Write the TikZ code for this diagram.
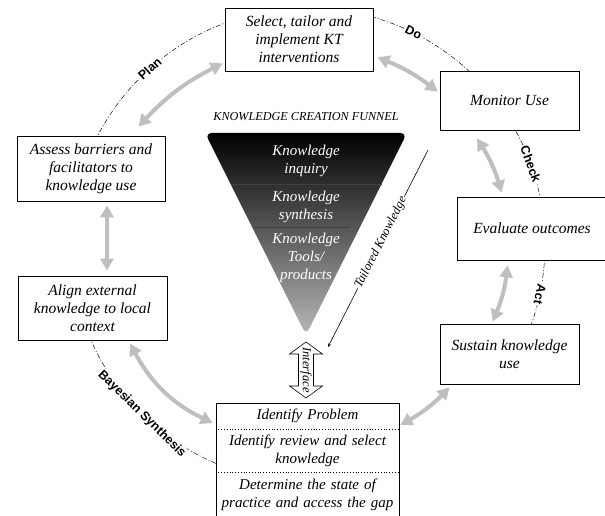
\documentclass[tikz,border=0pt]{standalone}
\usepackage{fontspec}
\setmainfont{Liberation Serif}
\setsansfont{Liberation Sans}
\usepackage{tikz}
\usetikzlibrary{calc,shapes,arrows,arrows.meta,positioning}
\tikzstyle{stage} = [rectangle, draw, fill=white, line width=0.8pt, align=center, inner sep=2pt, font=\fontsize{15.5}{18}\selectfont\itshape]
\tikzstyle{stage3} = [rectangle split, rectangle split parts=3, rectangle split draw splits=false, draw, fill=white, line width=0.8pt, text width=176pt, align=center, inner xsep=3.5pt, inner ysep=5.5pt, font=\fontsize{15}{18}\selectfont\itshape]
\tikzstyle{arrow} = [->, >=stealth, line width=0.6pt]
\tikzstyle{twoway} = [line width=4pt, draw=black!25, {Triangle[length=12pt,width=13pt]}-{Triangle[length=12pt,width=13pt]}]
\tikzstyle{pdsa} = [draw=blue!35!black, line width=0.5pt, dash pattern=on 5pt off 2pt on 1pt off 2pt]
\tikzstyle{phase} = [sloped, fill=white, inner sep=1pt, font=\sffamily\bfseries\fontsize{12.5}{14}\selectfont]
\tikzstyle{fnltext} = [align=center, text=white, font=\fontsize{15}{18}\selectfont\itshape]

\begin{document}
\begin{tikzpicture}[x=1pt,y=1pt]
\useasboundingbox (0,0) rectangle (605,515);
\coordinate (ctr) at (308,270);
\draw[pdsa] ($(ctr)+(154:237)$) arc[start angle=154, end angle=108, radius=237] node[phase, pos=0.48] (plan) {Plan};
\draw[pdsa] ($(ctr)+(77:237)$) arc[start angle=77, end angle=45, radius=237] node[phase, pos=0.42] (do) {Do};
\draw[pdsa] ($(ctr)+(31:237)$) arc[start angle=31, end angle=9, radius=237] node[phase, pos=0.5] (check) {Check};
\draw[pdsa] ($(ctr)+(-2:237)$) arc[start angle=-2, end angle=-22, radius=237] node[phase, pos=0.5, allow upside down] (act) {Act};
\draw[pdsa] ($(ctr)+(200:237)$) arc[start angle=200, end angle=249, radius=237] node[phase, pos=0.52] (bayes) {Bayesian Synthesis};

\node (sel) [stage, minimum width=148pt, minimum height=63pt] at (299,475.5) {Select, tailor and\\implement KT\\interventions};
\node (mon) [stage, minimum width=139pt, minimum height=59pt] at (509.5,414.5) {Monitor Use};
\node (eval) [stage, minimum width=150pt, minimum height=63pt] at (532,286.5) {Evaluate outcomes};
\node (sus) [stage, minimum width=139pt, minimum height=60pt] at (509.5,161) {Sustain knowledge\\use};
\node (ass) [stage, minimum width=148pt, minimum height=65pt] at (91,346.5) {Assess barriers and\\facilitators to\\knowledge use};
\node (ali) [stage, minimum width=149pt, minimum height=64pt] at (92.5,207) {Align external\\knowledge to local\\context};
\node (gap) [stage3, anchor=north] at (307.5,112) {Identify Problem\nodepart{two}Identify review and select\\knowledge\nodepart{three}Determine the state of\\practice and access the gap\rule[-8pt]{0pt}{8pt}};
\draw[dotted, line width=0.8pt] (gap.one split west) -- (gap.one split east);
\draw[dotted, line width=0.8pt] (gap.two split west) -- (gap.two split east);

\shade[top color=black, bottom color=black!28, rounded corners=7pt] (205,382) -- (407,382) -- (306,180) -- cycle;
\draw[black!75, line width=0.8pt] (230.5,331) -- (381.5,331);
\draw[black!75, line width=0.8pt] (253,288) -- (350,288);
\node (fnl) at (306,398) {\fontsize{12.2}{14}\selectfont\itshape KNOWLEDGE CREATION FUNNEL};
\node (inq) [fnltext] at (306,354) {Knowledge\\inquiry};
\node (syn) [fnltext] at (306,308) {Knowledge\\synthesis};
\node (tls) [fnltext] at (306,257) {Knowledge\\Tools/\\products};

\coordinate (tk1) at (428,365);
\coordinate (tk2) at (328,168);
\draw[arrow] (tk1) -- node[sloped, fill=white, inner sep=1pt, font=\fontsize{12.5}{14}\selectfont\itshape, pos=0.47] (tk) {Tailored Knowledge} (tk2);

\draw[fill=white, line width=0.6pt] (306,173) -- (322.5,161) -- (313.5,161) -- (313.5,129) -- (322.5,129) -- (306,117) -- (289.5,129) -- (298.5,129) -- (298.5,161) -- (289.5,161) -- cycle;
\node (ifc) [rotate=-90, inner sep=0pt, font=\fontsize{12.5}{14}\selectfont\itshape] at (306,145) {Interface};

\draw[twoway] ([xshift=-27pt,yshift=9pt]ass.north east) to[bend left=10] ([xshift=-2pt,yshift=8pt]sel.south west);
\draw[twoway] ([xshift=4pt,yshift=14pt]sel.south east) to[bend left=8] ([xshift=-2pt,yshift=-21pt]mon.north west);
\draw[twoway] ([xshift=-32.5pt,yshift=-8pt]mon.south) to[bend left=8] ([xshift=45pt,yshift=4pt]eval.north west);
\draw[twoway] ([xshift=51pt,yshift=-5pt]eval.south west) to[bend left=8] ([xshift=53pt,yshift=2pt]sus.north west);
\draw[twoway] ([xshift=10pt,yshift=-3pt]sus.south west) to[bend left=8] ([xshift=1pt,yshift=-22pt]gap.north east);
\draw[twoway] ([xshift=37.5pt,yshift=-3pt]ali.south) to[bend right=18] ([xshift=-3pt,yshift=-20pt]gap.north west);
\draw[twoway] ([xshift=16pt,yshift=-4pt]ass.south) -- ([xshift=14.5pt,yshift=5pt]ali.north);
\end{tikzpicture}
\end{document}
